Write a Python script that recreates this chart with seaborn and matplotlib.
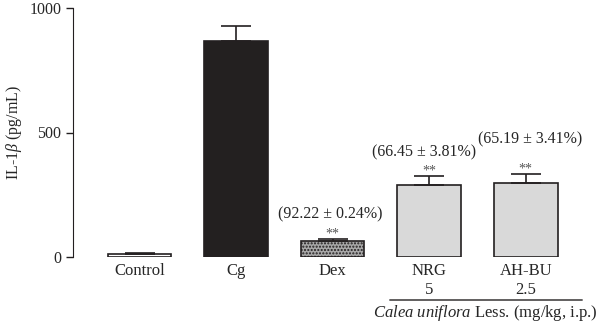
import matplotlib
matplotlib.use("Agg")
import matplotlib.pyplot as plt
import seaborn as sns
import pandas as pd
import numpy as np

groups = ["Control", "Cg", "Dex", "NRG\n5", "AH-BU\n2.5"]
values = [12, 869, 65, 288, 298]
errors = [4, 60, 6, 37, 35]
colors = ["white", "#231f20", "white", "#d9d9d9", "#d9d9d9"]
inhibition = ["", "", "(92.22 ± 0.24%)", "(66.45 ± 3.81%)", "(65.19 ± 3.41%)"]
stars = ["", "", "**", "**", "**"]

sns.set_style("ticks")
plt.rcParams['font.family'] = ['Liberation Serif', 'DejaVu Serif']
plt.rcParams['mathtext.fontset'] = 'custom'
plt.rcParams['mathtext.rm'] = 'Liberation Serif'
plt.rcParams['mathtext.it'] = 'Liberation Serif:italic'

fig = plt.figure(figsize=(6, 3.24), dpi=100)
ax = fig.add_axes([73/600, 1-257/324, (600-73)/600, 249/324])

df = pd.DataFrame({"group": groups, "value": values})
sns.barplot(data=df, x="group", y="value", hue="group", palette=colors,
            legend=False, width=0.66, edgecolor="#231f20", linewidth=1.2, ax=ax)
for i, p in enumerate(ax.patches[:len(groups)]):
    if i == 2:
        p.set_hatch(".....")
        p.set_facecolor("#a8a8a8")
ax.errorbar(np.arange(len(groups)), values, yerr=[np.zeros(len(errors)), errors],
            fmt="none", ecolor="#231f20", elinewidth=1.2, capsize=11, capthick=1.2)

for i in range(len(groups)):
    top = values[i] + errors[i]
    if stars[i]:
        ax.text(i, top - 4, stars[i], ha="center", va="bottom", fontsize=10, color="#555555")

ax.text(1.98, 140, inhibition[2], ha="center", va="bottom", fontsize=11.5)
ax.text(2.95, 387, inhibition[3], ha="center", va="bottom", fontsize=11.5)
ax.text(4.05, 442, inhibition[4], ha="center", va="bottom", fontsize=11.5)

ax.set_xlim(-0.69, 4.77)
ax.set_ylim(0, 1000)
ax.set_yticks([0, 500, 1000])
ax.tick_params(axis="y", labelsize=11.5, length=5, width=1, direction="out", color="#231f20")
ax.tick_params(axis="x", labelsize=12, length=0, pad=4)
ax.set_xlabel("")
ax.set_ylabel(r"IL-1$\it{\beta}$ (pg/mL)", fontsize=11.5)
sns.despine(ax=ax, bottom=True)
ax.spines["left"].set_color("#231f20")
for lab in ax.get_xticklabels():
    lab.set_linespacing(1.3)

# group line and label
ax.annotate("", xy=(387/600, 1-300/324), xytext=(585/600, 1-300/324),
            xycoords="figure fraction", arrowprops=dict(arrowstyle="-", lw=1, color="#231f20"))
fig.text(485/600, 1-313/324, r"$\it{Calea\ uniflora}$ Less. (mg/kg, i.p.)", ha="center",
         va="center", fontsize=12)

fig.savefig("out.png", dpi=100)
